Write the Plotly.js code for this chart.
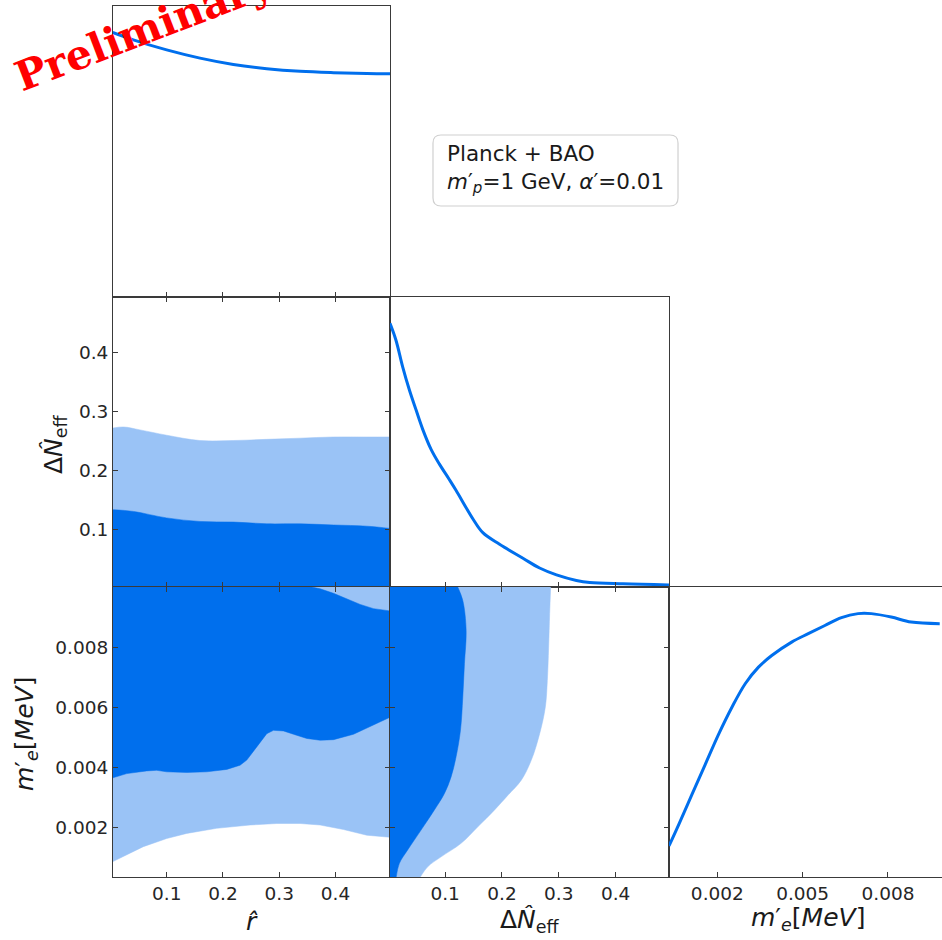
<!DOCTYPE html>
<html><head><meta charset="utf-8">
<script src="https://cdn.plot.ly/plotly-3.0.1.min.js"></script>
<style>html,body{margin:0;padding:0;background:#fff}#plot{width:942px;height:940px}</style>
</head><body><div id="plot"></div>
<script>
// ---------------- data ----------------
// 1D marginal of r-hat
const r1D   = [0.004, 0.0406, 0.0999, 0.1592, 0.2185, 0.2779, 0.3372, 0.3965, 0.4559, 0.4986];
const pR1D  = [1.000, 0.972, 0.934, 0.903, 0.879, 0.863, 0.853, 0.848, 0.845, 0.844];
// 1D marginal of Delta N_eff
const dn1D  = [0.003, 0.0135, 0.0253, 0.037, 0.0488, 0.0606, 0.0753, 0.090, 0.1076, 0.1194, 0.149, 0.1664, 0.1958, 0.237, 0.2663, 0.296, 0.331, 0.3545, 0.413, 0.4944];
const pDn1D = [1.000, 0.936, 0.835, 0.748, 0.672, 0.598, 0.522, 0.466, 0.407, 0.366, 0.258, 0.206, 0.162, 0.109, 0.072, 0.046, 0.025, 0.017, 0.012, 0.008];
// 1D marginal of m'_e
const me1D  = [0.0003, 0.000646, 0.001112, 0.001579, 0.002047, 0.002513, 0.00298, 0.003447, 0.003913, 0.004613, 0.005197, 0.005781, 0.006365, 0.006948, 0.007415, 0.008115, 0.008815, 0.00982];
const pMe1D = [0.118, 0.200, 0.314, 0.428, 0.542, 0.644, 0.733, 0.796, 0.840, 0.891, 0.923, 0.954, 0.984, 0.999, 0.999, 0.986, 0.967, 0.961];

// r-hat vs Delta N_eff contours (upper edges; lower edge is the prior bound 0)
const rLight2  = [0.004, 0.023, 0.0525, 0.1, 0.159, 0.2185, 0.278, 0.337, 0.3965, 0.456, 0.4986];
const dnLight2 = [0.272, 0.274, 0.269, 0.260, 0.251, 0.251, 0.253, 0.255, 0.257, 0.257, 0.257];
const rDark2   = [0.004, 0.0406, 0.0999, 0.1592, 0.2185, 0.2779, 0.3372, 0.3965, 0.4559, 0.4986];
const dnDark2  = [0.134, 0.131, 0.120, 0.114, 0.113, 0.110, 0.110, 0.108, 0.106, 0.102];

// r-hat vs m'_e contours
const rLightLo4 = [0.004, 0.0289, 0.0584, 0.1, 0.1355, 0.1889, 0.2482, 0.2956, 0.3372, 0.3728, 0.4143, 0.4559, 0.4986];
const meLightLo4 = [0.00086, 0.00108, 0.00136, 0.00163, 0.0018, 0.00197, 0.00208, 0.00213, 0.00213, 0.00208, 0.00193, 0.00174, 0.00167];
const rLightHi4 = [0.4986, 0.004];
const meLightHi4 = [0.0100, 0.0100];
const rDarkLo4 = [0.004, 0.029, 0.0643, 0.0821, 0.0999, 0.1355, 0.1711, 0.2067, 0.2304, 0.2423, 0.2601, 0.2779, 0.2898, 0.3076, 0.3254, 0.3491, 0.3728, 0.3965, 0.4321, 0.4677, 0.4986];
const meDarkLo4 = [0.00365, 0.00379, 0.00388, 0.00390, 0.00385, 0.00383, 0.00385, 0.00393, 0.00407, 0.00424, 0.00468, 0.00512, 0.00523, 0.00521, 0.00510, 0.00496, 0.00490, 0.00492, 0.00510, 0.00540, 0.00568];
const rDarkHi4 = [0.004, 0.358, 0.3728, 0.3965, 0.4202, 0.444, 0.4677, 0.4986];
const meDarkHi4 = [0.0100, 0.0100, 0.00994, 0.00979, 0.00961, 0.00942, 0.00928, 0.0092];

// Delta N_eff vs m'_e contours (right edges; left edge is the prior bound 0)
const dnLight5 = [0.2857, 0.2840, 0.2822, 0.2799, 0.2764, 0.2664, 0.2517, 0.2340, 0.2105, 0.1870, 0.1576, 0.1281, 0.0929, 0.0694, 0.0547];
const meLight5 = [0.0100, 0.00911, 0.0080, 0.00689, 0.00601, 0.00512, 0.00424, 0.00357, 0.00307, 0.00258, 0.00202, 0.00147, 0.00102, 0.00069, 0.0003];
const dnDark5  = [0.1222, 0.1311, 0.137, 0.134, 0.1311, 0.127, 0.1193, 0.1105, 0.0988, 0.0811, 0.0576, 0.0341, 0.0194, 0.0135];
const meDark5  = [0.0100, 0.00955, 0.00856, 0.00745, 0.00634, 0.00523, 0.00435, 0.00368, 0.00313, 0.00258, 0.00191, 0.00125, 0.00080, 0.0003];

// ticks
const rTicks = [0.1, 0.2, 0.3, 0.4];
const rTickText = ['0.1', '0.2', '0.3', '0.4'];
const dnTicks = [0.1, 0.2, 0.3, 0.4];
const dnTickText = ['0.1', '0.2', '0.3', '0.4'];
const meTicksY = [0.002, 0.004, 0.006, 0.008];
const meTickTextY = ['0.002', '0.004', '0.006', '0.008'];
const meTicksX = [0.002, 0.005, 0.008];
const meTickTextX = ['0.002', '0.005', '0.008'];

// ---------------- styling ----------------
const W = 942, H = 940;
const DARK = '#006FED', LIGHT = '#9AC3F6';
const X = p => p / W, Y = p => 1 - p / H;
const col1 = [X(113), X(390)], col2 = [X(390), X(669)], col3 = [X(669), 1];
const row1 = [Y(297), Y(6)], row2 = [Y(587), Y(297)], row3 = [Y(877), Y(587)];
const rRange = [0.0045, 0.497], dnRange = [0.003, 0.494], meRangeY = [0.00035, 0.0100], meRangeX = [0.0003, 0.0099], pRange = [0, 1.1];
const tickFont = {family: 'DejaVu Sans', size: 18.5, color: '#262626'};
const LC = '#3a3a3a';

function ax(o) {
  return Object.assign({
    showline: true, linecolor: LC, linewidth: 1, showgrid: false, zeroline: false,
    ticks: 'inside', ticklen: 5, tickwidth: 1, tickcolor: LC, tickfont: tickFont,
    tickmode: 'array', fixedrange: true
  }, o);
}

const traces = [
  {x: r1D, y: pR1D, xaxis: 'x', yaxis: 'y', mode: 'lines', line: {color: DARK, width: 3, shape: 'spline'}},
  {x: rLight2, y: dnLight2, xaxis: 'x2', yaxis: 'y2', mode: 'lines', fill: 'tozeroy', fillcolor: LIGHT, line: {color: LIGHT, width: 0.5, shape: 'spline'}},
  {x: rDark2, y: dnDark2, xaxis: 'x2', yaxis: 'y2', mode: 'lines', fill: 'tozeroy', fillcolor: DARK, line: {color: DARK, width: 0.5, shape: 'spline'}},
  {x: dn1D, y: pDn1D, xaxis: 'x3', yaxis: 'y3', mode: 'lines', line: {color: DARK, width: 3, shape: 'spline'}},
  {x: rLightLo4.concat(rLightHi4), y: meLightLo4.concat(meLightHi4), xaxis: 'x4', yaxis: 'y4', mode: 'lines', fill: 'toself', fillcolor: LIGHT, line: {color: LIGHT, width: 0.5}},
  {x: rDarkLo4.concat(rDarkHi4.slice().reverse()), y: meDarkLo4.concat(meDarkHi4.slice().reverse()), xaxis: 'x4', yaxis: 'y4', mode: 'lines', fill: 'toself', fillcolor: DARK, line: {color: DARK, width: 0.5}},
  {x: dnLight5, y: meLight5, xaxis: 'x5', yaxis: 'y5', mode: 'lines', fill: 'tozerox', fillcolor: LIGHT, line: {color: LIGHT, width: 0.5, shape: 'spline'}},
  {x: dnDark5, y: meDark5, xaxis: 'x5', yaxis: 'y5', mode: 'lines', fill: 'tozerox', fillcolor: DARK, line: {color: DARK, width: 0.5, shape: 'spline'}},
  {x: me1D, y: pMe1D, xaxis: 'x6', yaxis: 'y6', mode: 'lines', line: {color: DARK, width: 3, shape: 'spline'}}
];

function rrPath(x0, y0, x1, y1, rad) {
  const f = (a, b) => X(a).toFixed(5) + ',' + Y(b).toFixed(5);
  return 'M' + f(x0 + rad, y0) + ' L' + f(x1 - rad, y0) + ' Q' + f(x1, y0) + ' ' + f(x1, y0 + rad) +
    ' L' + f(x1, y1 - rad) + ' Q' + f(x1, y1) + ' ' + f(x1 - rad, y1) +
    ' L' + f(x0 + rad, y1) + ' Q' + f(x0, y1) + ' ' + f(x0, y1 - rad) +
    ' L' + f(x0, y0 + rad) + ' Q' + f(x0, y0) + ' ' + f(x0 + rad, y0) + ' Z';
}

const labelFont = {family: 'DejaVu Sans', size: 25, color: '#1a1a1a'};
const labelDn = 'Δ<i>N\u0302</i><sub>eff</sub>';
const labelMe = '<i>m</i>′<sub><i>e</i></sub>[<i>MeV</i>]';
const labelR = '<i>r\u0302</i>';

const layout = {
  width: W, height: H, margin: {l: 0, r: 0, t: 0, b: 0},
  paper_bgcolor: '#fff', plot_bgcolor: '#fff', showlegend: false,
  xaxis:  ax({domain: col1, anchor: 'y',  range: rRange, tickvals: rTicks, ticktext: rTickText, showticklabels: false, mirror: true}),
  yaxis:  ax({domain: row1, anchor: 'x',  range: pRange, ticks: '', showticklabels: false, mirror: true}),
  xaxis2: ax({domain: col1, anchor: 'y2', range: rRange, tickvals: rTicks, ticktext: rTickText, showticklabels: false, mirror: 'ticks'}),
  yaxis2: ax({domain: row2, anchor: 'x2', range: dnRange, tickvals: dnTicks, ticktext: dnTickText, mirror: 'ticks'}),
  xaxis3: ax({domain: col2, anchor: 'y3', range: dnRange, tickvals: dnTicks, ticktext: dnTickText, showticklabels: false, mirror: true}),
  yaxis3: ax({domain: row2, anchor: 'x3', range: pRange, ticks: '', showticklabels: false, mirror: true}),
  xaxis4: ax({domain: col1, anchor: 'y4', range: rRange, tickvals: rTicks, ticktext: rTickText, mirror: 'ticks'}),
  yaxis4: ax({domain: row3, anchor: 'x4', range: meRangeY, tickvals: meTicksY, ticktext: meTickTextY, mirror: 'ticks'}),
  xaxis5: ax({domain: col2, anchor: 'y5', range: dnRange, tickvals: dnTicks, ticktext: dnTickText, mirror: 'ticks'}),
  yaxis5: ax({domain: row3, anchor: 'x5', range: meRangeY, tickvals: meTicksY, ticktext: meTickTextY, showticklabels: false, mirror: 'ticks'}),
  xaxis6: ax({domain: col3, anchor: 'y6', range: meRangeX, tickvals: meTicksX, ticktext: meTickTextX, mirror: true}),
  yaxis6: ax({domain: row3, anchor: 'x6', range: pRange, ticks: '', showticklabels: false, mirror: false}),
  shapes: [
    {type: 'path', xref: 'paper', yref: 'paper', path: rrPath(433, 135, 678, 206, 8),
     line: {color: '#d0d0d0', width: 1.2}, fillcolor: 'rgba(255,255,255,0.85)', layer: 'above'}
  ],
  annotations: [
    {xref: 'paper', yref: 'paper', x: X(445), y: Y(169), xanchor: 'left', yanchor: 'middle', align: 'left', showarrow: false,
     text: 'Planck + BAO<br><i>m</i>′<sub><i>p</i></sub>=1 GeV, <i>α</i>′=0.01',
     font: {family: 'DejaVu Sans', size: 21.5, color: '#1a1a1a'}},
    {xref: 'paper', yref: 'paper', x: X(251.5), y: Y(921), xanchor: 'center', yanchor: 'middle', showarrow: false, text: labelR, font: labelFont},
    {xref: 'paper', yref: 'paper', x: X(529.5), y: Y(921), xanchor: 'center', yanchor: 'middle', showarrow: false, text: labelDn, font: labelFont},
    {xref: 'paper', yref: 'paper', x: X(808), y: Y(919), xanchor: 'center', yanchor: 'middle', showarrow: false, text: labelMe, font: labelFont},
    {xref: 'paper', yref: 'paper', x: X(55), y: Y(444), xanchor: 'center', yanchor: 'middle', showarrow: false, textangle: -90, text: labelDn, font: labelFont},
    {xref: 'paper', yref: 'paper', x: X(26), y: Y(734), xanchor: 'center', yanchor: 'middle', showarrow: false, textangle: -90, text: labelMe, font: labelFont},
    {xref: 'paper', yref: 'paper', x: X(144), y: Y(30), xanchor: 'center', yanchor: 'middle', showarrow: false, textangle: -21,
     text: '<b>Preliminary</b>', font: {family: 'DejaVu Serif', size: 41, color: '#ff0000'}}
  ]
};

Plotly.newPlot('plot', traces, layout, {displayModeBar: false, staticPlot: true});
</script>
</body></html>
